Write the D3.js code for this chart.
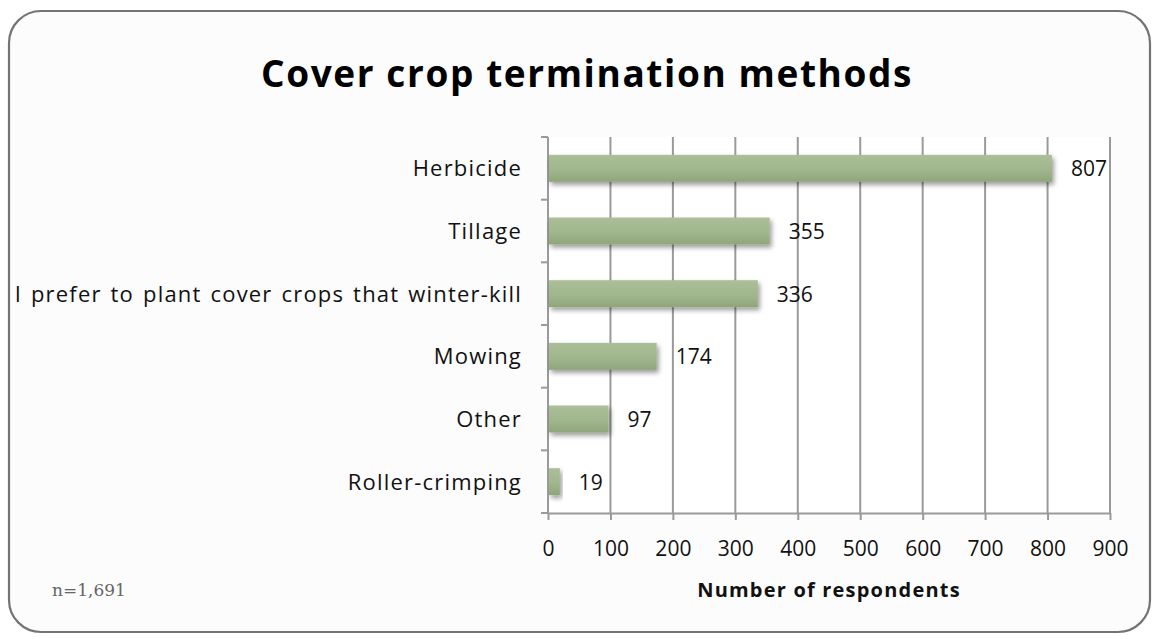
<!DOCTYPE html>
<html><head><meta charset="utf-8">
<script src="https://cdn.jsdelivr.net/npm/d3@7"></script>
<style>body{margin:0;background:#fff;}svg{display:block;}</style>
</head><body>
<script>
const categories = ["Herbicide","Tillage","I prefer to plant cover crops that winter-kill","Mowing","Other","Roller-crimping"];
const values = [807,355,336,174,97,19];
const xTicks = [0,100,200,300,400,500,600,700,800,900];
const title = "Cover crop termination methods";
const xTitle = "Number of respondents";
const note = "n=1,691";

const W=1159,H=639;
const FONT="'Open Sans', Lato, sans-serif";
const svg=d3.select("body").append("svg").attr("width",W).attr("height",H);
const defs=svg.append("defs");
const g1=defs.append("linearGradient").attr("id","bg").attr("x1",0).attr("y1",0).attr("x2",0).attr("y2",1);
g1.append("stop").attr("offset","0%").attr("stop-color","#abbf98");
g1.append("stop").attr("offset","55%").attr("stop-color","#a0b68c");
g1.append("stop").attr("offset","100%").attr("stop-color","#8fa67b");
const f=defs.append("filter").attr("id","sh").attr("x","-10%").attr("y","-30%").attr("width","130%").attr("height","190%");
f.append("feGaussianBlur").attr("in","SourceAlpha").attr("stdDeviation",2.5).attr("result","b");
f.append("feOffset").attr("in","b").attr("dx",2).attr("dy",3).attr("result","o");
f.append("feComponentTransfer").attr("in","o").attr("result","o2").append("feFuncA").attr("type","linear").attr("slope",0.4);
const m=f.append("feMerge");m.append("feMergeNode").attr("in","o2");m.append("feMergeNode").attr("in","SourceGraphic");

svg.append("rect").attr("x",9).attr("y",11).attr("width",1141).attr("height",621).attr("rx",32).attr("ry",32)
  .attr("fill","#fcfcfc").attr("stroke","#747474").attr("stroke-width",2.2);

svg.append("text").attr("x",587).attr("y",87).attr("text-anchor","middle")
  .attr("font-family",FONT).attr("font-weight","bold").attr("font-size",37).attr("letter-spacing",1.6).attr("fill","#000").text(title);

const x=d3.scaleLinear().domain([0,900]).range([548,1110]);
const y=d3.scaleBand().domain(categories).range([137,513]).paddingInner(0.57).paddingOuter(0.285);

svg.append("rect").attr("x",x(0)).attr("y",137).attr("width",x(900)-x(0)).attr("height",513-137).attr("fill","#fff");

svg.append("g").selectAll("line").data(xTicks.slice(1)).join("line")
  .attr("x1",d=>x(d)).attr("x2",d=>x(d)).attr("y1",137).attr("y2",513)
  .attr("stroke","#9a9a9a").attr("stroke-width",2);

const xa=svg.append("g").attr("transform","translate(0,513)")
  .call(d3.axisBottom(x).tickValues(xTicks).tickSize(7).tickPadding(21).tickSizeOuter(0));
xa.select(".domain").attr("stroke","#9a9a9a").attr("stroke-width",2);
xa.selectAll(".tick line").attr("stroke","#9a9a9a").attr("stroke-width",2);
xa.selectAll("text").attr("font-family",FONT).attr("font-size",21).attr("fill","#111");

const ya=svg.append("g").attr("transform",`translate(${x(0)},0)`);
ya.append("line").attr("x1",0).attr("x2",0).attr("y1",137).attr("y2",513).attr("stroke","#9a9a9a").attr("stroke-width",2);
const bounds=d3.range(categories.length+1).map(i=>137+i*y.step());
ya.selectAll("line.t").data(bounds).join("line").attr("class","t")
  .attr("x1",-7).attr("x2",0).attr("y1",d=>d).attr("y2",d=>d).attr("stroke","#9a9a9a").attr("stroke-width",2);
ya.selectAll("text").data(categories).join("text")
  .attr("x",-26).attr("y",d=>y(d)+y.bandwidth()/2).attr("dy","0.36em").attr("text-anchor","end")
  .attr("font-family",FONT).attr("font-size",22).attr("letter-spacing",1.2).attr("word-spacing",2).attr("fill","#111").text(d=>d);

svg.append("g").selectAll("rect").data(categories).join("rect")
  .attr("x",x(0)+1).attr("y",d=>y(d)).attr("width",(d,i)=>x(values[i])-x(0)-1).attr("height",y.bandwidth())
  .attr("fill","url(#bg)").attr("filter","url(#sh)");

svg.append("g").selectAll("text").data(categories).join("text")
  .attr("x",(d,i)=>x(values[i])+19).attr("y",d=>y(d)+y.bandwidth()/2).attr("dy","0.38em")
  .attr("font-family",FONT).attr("font-size",21).attr("fill","#111").text((d,i)=>values[i]);

svg.append("text").attr("x",829).attr("y",597).attr("text-anchor","middle")
  .attr("font-family",FONT).attr("font-weight","bold").attr("font-size",20).attr("letter-spacing",1.2).attr("fill","#111").text(xTitle);

svg.append("text").attr("x",52).attr("y",596)
  .attr("font-family","'DejaVu Serif', serif").attr("font-size",17).attr("fill","#666").text(note);
</script>
</body></html>
